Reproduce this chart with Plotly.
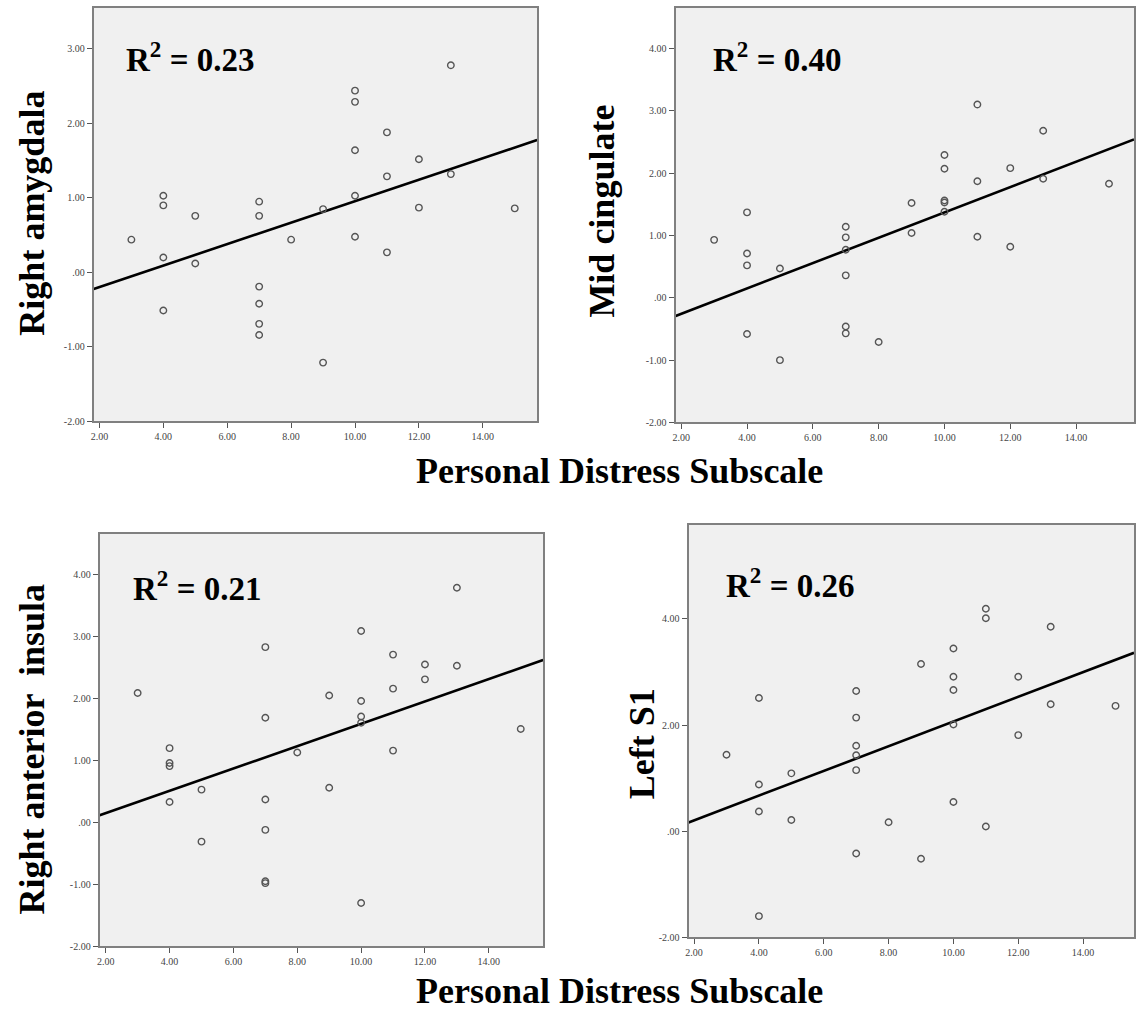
import numpy as np
import plotly.graph_objects as go

# ---------------- data ----------------
distress = [3, 4, 4, 4, 4, 5, 5, 7, 7, 7, 7, 7, 7, 8, 9, 9,
            10, 10, 10, 10, 10, 11, 11, 11, 12, 12, 13, 13, 15]

right_amygdala = [0.44, 1.03, 0.90, 0.20, -0.51, 0.76, 0.12,
                  0.95, 0.76, -0.19, -0.42, -0.69, -0.84, 0.44, 0.85, -1.21,
                  2.44, 2.29, 1.64, 1.03, 0.48, 1.88, 1.29, 0.27,
                  1.52, 0.87, 2.78, 1.32, 0.86]

mid_cingulate = [0.93, 1.37, 0.71, 0.52, -0.58, 0.47, -1.00,
                 1.14, 0.97, 0.77, 0.36, -0.46, -0.57, -0.71, 1.52, 1.04,
                 2.29, 2.07, 1.56, 1.53, 1.38, 3.10, 1.87, 0.98,
                 2.08, 0.82, 2.68, 1.91, 1.83]

right_ant_insula = [2.09, 1.20, 0.96, 0.91, 0.33, 0.53, -0.31,
                    2.83, 1.69, 0.37, -0.12, -0.95, -0.98, 1.13, 2.05, 0.56,
                    3.09, 1.96, 1.71, 1.61, -1.30, 2.71, 2.16, 1.16,
                    2.55, 2.31, 3.79, 2.53, 1.51]

left_s1 = [1.44, 2.51, 0.88, 0.37, -1.60, 1.09, 0.21,
           2.64, 2.14, 1.61, 1.43, 1.15, -0.42, 0.17, 3.15, -0.52,
           3.44, 2.91, 2.66, 2.01, 0.55, 4.19, 4.01, 0.09,
           2.91, 1.81, 3.85, 2.39, 2.36]

panel_names = ["Right amygdala", "Mid cingulate", "Right anterior  insula", "Left S1"]
r2_labels = ["0.23", "0.40", "0.21", "0.26"]
x_tick_vals = [2, 4, 6, 8, 10, 12, 14]
x_tick_text = ["2.00", "4.00", "6.00", "8.00", "10.00", "12.00", "14.00"]
y_tick_vals = [[-2, -1, 0, 1, 2, 3], [-2, -1, 0, 1, 2, 3, 4],
               [-2, -1, 0, 1, 2, 3, 4], [-2, 0, 2, 4]]
x_title = "Personal Distress Subscale"

series = [right_amygdala, mid_cingulate, right_ant_insula, left_s1]

# ---------------- layout geometry (pixels) ----------------
W, H = 1136, 1009
boxes = [  # left, right, top, bottom
    (91, 536, 8, 424),
    (675, 1135, 8, 425),
    (97, 542, 537, 952),
    (688, 1135, 528, 943),
]
x_ranges = [(1.82, 15.70), (1.83, 15.76), (1.81, 15.70), (1.83, 15.57)]
y_ranges = [(-2, 3.55), (-2, 4.65), (-2, 4.66), (-2, 5.77)]
r2_pos = [(121, 57), (710, 57), (128, 590), (724, 586)]
ytitle_pos = [(29, 214), (601, 212), (29, 754), (641, 748)]
xtitle_y = [474, 997]


def fmt(v):
    if v == 0:
        return ".00"
    return f"{v:.2f}"


fig = go.Figure()
serif = "Liberation Serif"
layout = dict(width=W, height=H, margin=dict(l=0, r=0, t=0, b=0),
              paper_bgcolor="white", plot_bgcolor="#f0f0f0",
              showlegend=False, annotations=[])

for i, ys in enumerate(series):
    n = "" if i == 0 else str(i + 1)
    l, r, t, b = boxes[i]
    xd = [l / W, r / W]
    yd = [1 - b / H, 1 - t / H]
    x0, x1 = x_ranges[i]
    slope, icpt = np.polyfit(distress, ys, 1)
    fig.add_trace(go.Scatter(
        x=[x0, x1], y=[icpt + slope * x0, icpt + slope * x1],
        mode="lines", line=dict(color="black", width=2.6),
        xaxis="x" + n, yaxis="y" + n, hoverinfo="skip"))
    fig.add_trace(go.Scatter(
        x=distress, y=ys, mode="markers",
        marker=dict(symbol="circle-open", size=6.5,
                    line=dict(color="#555555", width=1.4), color="#555555"),
        xaxis="x" + n, yaxis="y" + n))
    common = dict(showgrid=False, zeroline=False, showline=True, mirror=True,
                  linecolor="#808080", linewidth=2, ticks="outside",
                  ticklen=5, tickwidth=1.2, tickcolor="#555555",
                  tickfont=dict(family=serif, size=10, color="#444444"))
    layout["xaxis" + n] = dict(domain=xd, range=[x0, x1], anchor="y" + n,
                               tickvals=x_tick_vals, ticktext=x_tick_text, **common)
    layout["yaxis" + n] = dict(domain=yd, range=list(y_ranges[i]), anchor="x" + n,
                               tickvals=y_tick_vals[i],
                               ticktext=[fmt(v) for v in y_tick_vals[i]], **common)
    layout["annotations"].append(dict(
        text=f"R<sup>2</sup> = {r2_labels[i]}", xref="paper", yref="paper",
        x=r2_pos[i][0] / W, y=1 - r2_pos[i][1] / H,
        xanchor="left", yanchor="middle", showarrow=False,
        font=dict(family=serif, size=33, color="black", weight="bold")))
    layout["annotations"].append(dict(
        text=panel_names[i], xref="paper", yref="paper",
        x=ytitle_pos[i][0] / W, y=1 - ytitle_pos[i][1] / H,
        xanchor="center", yanchor="middle", textangle=-90, showarrow=False,
        font=dict(family=serif, size=36, color="black", weight="bold")))

for yc in xtitle_y:
    layout["annotations"].append(dict(
        text=x_title, xref="paper", yref="paper", x=619 / W, y=1 - yc / H,
        xanchor="center", yanchor="middle", showarrow=False,
        font=dict(family=serif, size=36, color="black", weight="bold")))

fig.update_layout(**layout)
fig.write_html("out.html", config={"displayModeBar": False},
               post_script="document.body.style.margin='0px';")
